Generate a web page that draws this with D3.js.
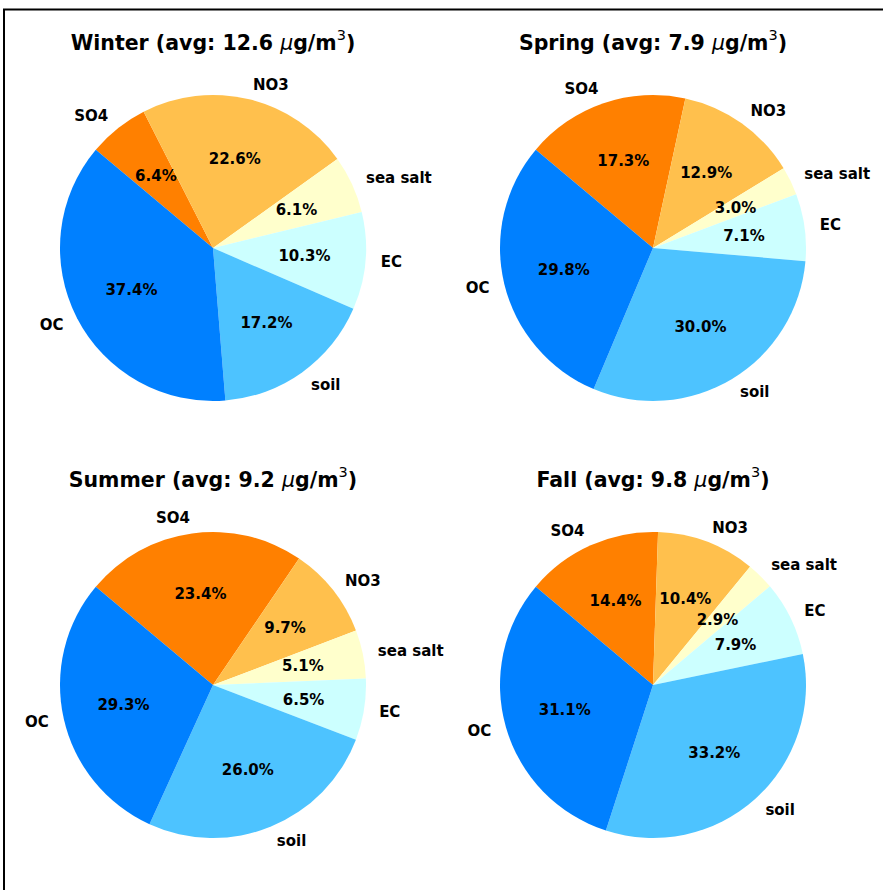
<!DOCTYPE html>
<html>
<head>
<meta charset="utf-8">
<script src="https://cdn.jsdelivr.net/npm/d3@7"></script>
<style>
  html, body { margin: 0; padding: 0; background: #fff; }
  svg { display: block; }
  text { font-family: "DejaVu Sans", sans-serif; fill: #000; }
</style>
</head>
<body>
<svg id="chart" width="883" height="890"></svg>
<script>
// Components, listed clockwise from the 140° start (upper left)
const components = ["SO4", "NO3", "sea salt", "EC", "soil", "OC"];
const componentColors = ["#ff8000", "#ffc04d", "#ffffcc", "#ccffff", "#4dc3ff", "#0080ff"];

// Seasonal mass fractions (%) in the same order as the components
const seasons = ["Winter", "Spring", "Summer", "Fall"];
const seasonAverages = [12.6, 7.9, 9.2, 9.8];
const winterShares = [6.4, 22.6, 6.1, 10.3, 17.2, 37.4];
const springShares = [17.3, 12.9, 3.0, 7.1, 30.0, 29.8];
const summerShares = [23.4, 9.7, 5.1, 6.5, 26.0, 29.3];
const fallShares   = [14.4, 10.4, 2.9, 7.9, 33.2, 31.1];
const seasonShares = [winterShares, springShares, summerShares, fallShares];

const svg = d3.select("#chart");

// figure frame
svg.append("rect")
  .attr("x", 4).attr("y", 9.5)
  .attr("width", 900).attr("height", 900)
  .attr("fill", "none").attr("stroke", "#000").attr("stroke-width", 2);

const radius = 153;
const centers = [[213, 248], [653, 248], [213, 685], [653, 685]];
const titleY = [43, 43, 480, 480];

const color = d3.scaleOrdinal().domain(components).range(componentColors);
const startDeg = 90 - 140; // matplotlib startangle 140 in d3's clock convention
const pie = d3.pie()
  .sort(null)
  .value(d => d.value)
  .startAngle(startDeg * Math.PI / 180)
  .endAngle((startDeg + 360) * Math.PI / 180);
const arc = d3.arc().innerRadius(0).outerRadius(radius);

seasons.forEach((season, i) => {
  const [cx, cy] = centers[i];
  const data = components.map((c, j) => ({ name: c, value: seasonShares[i][j] }));
  const total = d3.sum(data, d => d.value);
  const g = svg.append("g").attr("transform", `translate(${cx},${cy})`);
  const arcs = pie(data);

  g.selectAll("path.slice")
    .data(arcs)
    .join("path")
    .attr("class", "slice")
    .attr("d", arc)
    .attr("fill", d => color(d.data.name));

  const polar = (d, k) => {
    const a = (d.startAngle + d.endAngle) / 2;
    return [k * radius * Math.sin(a), -k * radius * Math.cos(a)];
  };

  // category labels outside the pie
  g.selectAll("text.label")
    .data(arcs)
    .join("text")
    .attr("class", "label")
    .attr("x", d => polar(d, 1.1)[0])
    .attr("y", d => polar(d, 1.1)[1])
    .attr("text-anchor", d => polar(d, 1.1)[0] > 0 ? "start" : "end")
    .attr("dominant-baseline", "central")
    .attr("font-size", 15)
    .attr("font-weight", "bold")
    .text(d => d.data.name);

  // percentage labels inside the slices
  g.selectAll("text.pct")
    .data(arcs)
    .join("text")
    .attr("class", "pct")
    .attr("x", d => polar(d, 0.6)[0])
    .attr("y", d => polar(d, 0.6)[1])
    .attr("text-anchor", "middle")
    .attr("dominant-baseline", "central")
    .attr("font-size", 15)
    .attr("font-weight", "bold")
    .text(d => (100 * d.data.value / total).toFixed(1) + "%");

  // title with micro sign and superscript
  const t = svg.append("text")
    .attr("x", cx)
    .attr("y", titleY[i])
    .attr("text-anchor", "middle")
    .attr("dominant-baseline", "central")
    .attr("font-size", 20.5)
    .attr("font-weight", "bold");
  t.append("tspan").text(`${season} (avg: ${seasonAverages[i].toFixed(1)} `);
  t.append("tspan").attr("font-style", "italic").attr("font-weight", "normal").text("\u03bc");
  t.append("tspan").text("g/m");
  t.append("tspan").attr("font-weight", "normal").attr("font-size", 14.5).attr("dy", -8).text("3");
  t.append("tspan").attr("dy", 8).text(")");
});
</script>
</body>
</html>
